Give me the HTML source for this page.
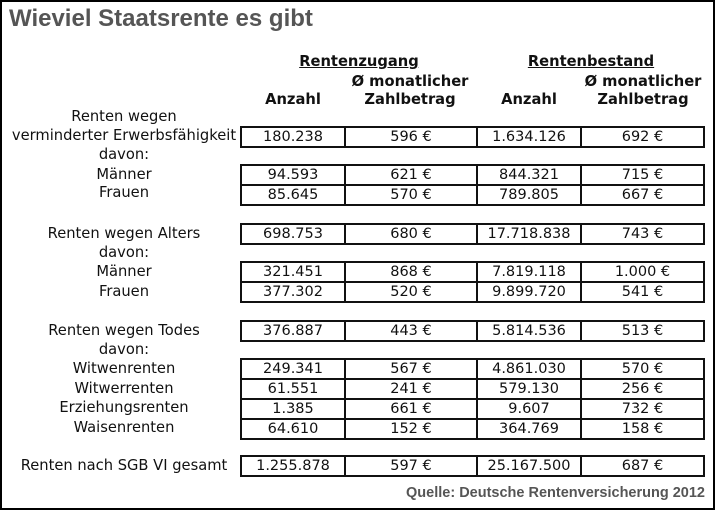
<!DOCTYPE html>
<html><head><meta charset="utf-8"><style>
body{margin:0;width:715px;height:510px;background:#fff;position:relative;overflow:hidden;font-family:"DejaVu Sans",Verdana,sans-serif;color:#111}
#frame{position:absolute;left:0;top:0;width:711px;height:506px;border:2px solid #000}
.t{position:absolute;white-space:nowrap}
.lab{position:absolute;left:4px;width:240px;text-align:center;font-size:14.7px;line-height:18px;white-space:nowrap}
.h{position:absolute;font-weight:bold;font-size:14.7px;text-align:center;line-height:18px;white-space:nowrap}
.box{position:absolute;left:240px;width:461px;border:2px solid #111;box-sizing:content-box}
.r{display:flex;height:18px;border-top:2px solid #111}
.r:first-child{border-top:none}
.r div{text-align:center;font-size:14.5px;line-height:18px;box-sizing:border-box}
.c1{width:104px;border-right:2px solid #111}
.c2{width:132px;border-right:2px solid #111}
.c3{width:104px;border-right:2px solid #111}
.c4{width:121px}
</style></head><body>
<div id="frame"></div>
<div class="t" style="left:9px;top:5px;font-family:'Liberation Sans',Arial,sans-serif;font-weight:bold;font-size:24px;color:#555">Wieviel Staatsrente es gibt</div>

<div class="h" style="left:242px;width:234px;top:53px;text-decoration:underline">Rentenzugang</div>
<div class="h" style="left:478px;width:226px;top:53px;text-decoration:underline">Rentenbestand</div>
<div class="h" style="left:344px;width:132px;top:73px">Ø monatlicher</div>
<div class="h" style="left:344px;width:132px;top:91px">Zahlbetrag</div>
<div class="h" style="left:582px;width:122px;top:73px">Ø monatlicher</div>
<div class="h" style="left:582px;width:122px;top:91px">Zahlbetrag</div>
<div class="h" style="left:242px;width:102px;top:91px">Anzahl</div>
<div class="h" style="left:478px;width:102px;top:91px">Anzahl</div>

<div class="lab" style="top:108px">Renten wegen</div>
<div class="lab" style="top:127px">verminderter Erwerbsfähigkeit</div>
<div class="lab" style="top:146px">davon:</div>
<div class="lab" style="top:166px">Männer</div>
<div class="lab" style="top:184px">Frauen</div>
<div class="lab" style="top:225px">Renten wegen Alters</div>
<div class="lab" style="top:244px">davon:</div>
<div class="lab" style="top:263px">Männer</div>
<div class="lab" style="top:283px">Frauen</div>
<div class="lab" style="top:322px">Renten wegen Todes</div>
<div class="lab" style="top:341px">davon:</div>
<div class="lab" style="top:360px">Witwenrenten</div>
<div class="lab" style="top:380px">Witwerrenten</div>
<div class="lab" style="top:399px">Erziehungsrenten</div>
<div class="lab" style="top:419px">Waisenrenten</div>
<div class="lab" style="top:457px">Renten nach SGB VI gesamt</div>

<div class="box" style="top:126px"><div class="r"><div class="c1">180.238</div><div class="c2">596 €</div><div class="c3">1.634.126</div><div class="c4">692 €</div></div></div>
<div class="box" style="top:164px"><div class="r"><div class="c1">94.593</div><div class="c2">621 €</div><div class="c3">844.321</div><div class="c4">715 €</div></div><div class="r"><div class="c1">85.645</div><div class="c2">570 €</div><div class="c3">789.805</div><div class="c4">667 €</div></div></div>
<div class="box" style="top:223px"><div class="r"><div class="c1">698.753</div><div class="c2">680 €</div><div class="c3">17.718.838</div><div class="c4">743 €</div></div></div>
<div class="box" style="top:261px"><div class="r"><div class="c1">321.451</div><div class="c2">868 €</div><div class="c3">7.819.118</div><div class="c4">1.000 €</div></div><div class="r"><div class="c1">377.302</div><div class="c2">520 €</div><div class="c3">9.899.720</div><div class="c4">541 €</div></div></div>
<div class="box" style="top:320px"><div class="r"><div class="c1">376.887</div><div class="c2">443 €</div><div class="c3">5.814.536</div><div class="c4">513 €</div></div></div>
<div class="box" style="top:358px"><div class="r"><div class="c1">249.341</div><div class="c2">567 €</div><div class="c3">4.861.030</div><div class="c4">570 €</div></div><div class="r"><div class="c1">61.551</div><div class="c2">241 €</div><div class="c3">579.130</div><div class="c4">256 €</div></div><div class="r"><div class="c1">1.385</div><div class="c2">661 €</div><div class="c3">9.607</div><div class="c4">732 €</div></div><div class="r"><div class="c1">64.610</div><div class="c2">152 €</div><div class="c3">364.769</div><div class="c4">158 €</div></div></div>
<div class="box" style="top:455px"><div class="r"><div class="c1">1.255.878</div><div class="c2">597 €</div><div class="c3">25.167.500</div><div class="c4">687 €</div></div></div>

<div class="t" style="right:10px;top:485px;font-family:'Liberation Sans',Arial,sans-serif;font-weight:bold;font-size:14.5px;color:#555">Quelle: Deutsche Rentenversicherung 2012</div>
</body></html>
